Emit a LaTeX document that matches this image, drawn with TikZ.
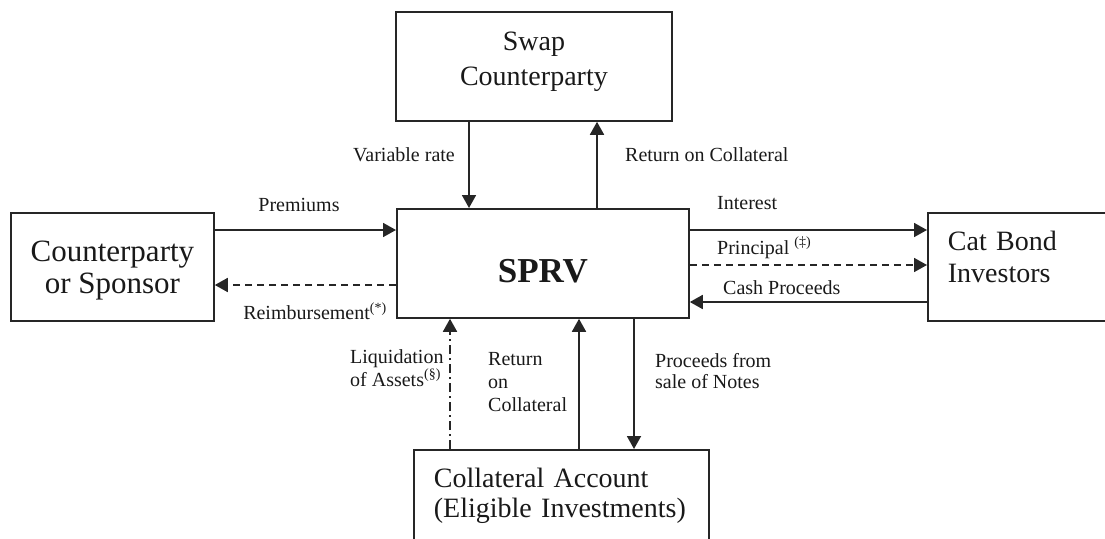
\documentclass[tikz,border=0pt]{standalone}
\usepackage{fontspec}
\setmainfont{Liberation Serif}
\usetikzlibrary{arrows.meta}
\begin{document}
\begin{tikzpicture}[x=1pt,y=-1pt,
  box/.style={draw=black!85, line width=1.8pt, inner sep=0pt, text=black!90},
  flow/.style={draw=black!85, line width=1.8pt, -{Triangle[length=13pt,width=14pt]}},
  dashedflow/.style={flow, dash pattern=on 7pt off 5pt},
  dashdotflow/.style={flow, dash pattern=on 9pt off 4pt on 2pt off 4pt},
  lbl/.style={font=\fontsize{20}{23}\selectfont, inner sep=0pt, text=black!90, align=left},
]
\useasboundingbox (0,0) rectangle (1105,538);

% boxes
\node[box, font=\fontsize{28}{35}\selectfont, align=center, anchor=north west,
      minimum width=276pt, minimum height=109pt]
  (swap) at (395,11) {Swap\\Counterparty\rule[-16pt]{0pt}{16pt}};
\node[box, font=\fontsize{31}{32}\selectfont, align=center, anchor=north west,
      minimum width=203pt, minimum height=108pt]
  (sponsor) at (10,212) {\rule{0pt}{28pt}Counterparty\\or Sponsor};
\node[box, font=\fontsize{35}{35}\selectfont\bfseries, anchor=north west,
      minimum width=292pt, minimum height=109pt]
  (sprv) at (396,208) {\rule{0pt}{39pt}SPRV};
\node[box, font=\fontsize{28}{32}\selectfont, align=left, anchor=north west,
      text width=160pt, inner xsep=20pt, minimum height=108pt]
  (investors) at (927,212) {Cat Bond\\Investors\rule[-20pt]{0pt}{20pt}};
\node[box, font=\fontsize{28}{30}\selectfont, align=left, anchor=north west,
      text width=255pt, inner xsep=20pt, minimum height=101pt]
  (collateral) at (413,449) {Collateral Account\\(Eligible Investments)\rule[-16pt]{0pt}{16pt}};

% positions of the connectors
\coordinate (xvar) at (469,0);
\coordinate (xret) at (597,0);
\coordinate (yprem) at (0,230);
\coordinate (yreimb) at (0,285);
\coordinate (yint) at (0,230);
\coordinate (yprin) at (0,265);
\coordinate (ycash) at (0,302);
\coordinate (xliq) at (450,0);
\coordinate (xcol) at (579,0);
\coordinate (xproc) at (634,0);

% swap counterparty flows
\draw[flow] (swap.south -| xvar) -- (sprv.north -| xvar);
\draw[flow] (sprv.north -| xret) -- (swap.south -| xret);
% sponsor flows
\draw[flow] (sponsor.east |- yprem) -- (sprv.west |- yprem);
\draw[dashedflow] (sprv.west |- yreimb) -- (sponsor.east |- yreimb);
% investor flows
\draw[flow] (sprv.east |- yint) -- (investors.west |- yint);
\draw[dashedflow] (sprv.east |- yprin) -- (investors.west |- yprin);
\draw[flow] (investors.west |- ycash) -- (sprv.east |- ycash);
% collateral account flows
\draw[dashdotflow] (collateral.north -| xliq) -- (sprv.south -| xliq);
\draw[flow] (collateral.north -| xcol) -- (sprv.south -| xcol);
\draw[flow] (sprv.south -| xproc) -- (collateral.north -| xproc);

% labels
\node[lbl, anchor=east] (lvar) at (455,155) {Variable rate};
\node[lbl, anchor=west] (lret) at (625,155) {Return on Collateral};
\node[lbl] (lprem) at (299,205) {Premiums};
\node[lbl] (lreimb) at (315,311) {Reimbursement\textsuperscript{(*)}};
\node[lbl, anchor=west] (lint) at (717,203) {Interest};
\node[lbl, anchor=west] (lprin) at (717,248) {Principal \textsuperscript{(‡)}};
\node[lbl, anchor=west] (lcash) at (723,288) {Cash Proceeds};
\node[lbl, anchor=north west] (lliq) at (350,349) {Liquidation\\of Assets\textsuperscript{(§)}};
\node[lbl, anchor=north west] (lcol) at (488,352) {Return\\on\\Collateral};
\node[lbl, anchor=north west, font=\fontsize{20}{21}\selectfont] (lproc) at (655,353) {Proceeds from\\sale of Notes};
\end{tikzpicture}
\end{document}
